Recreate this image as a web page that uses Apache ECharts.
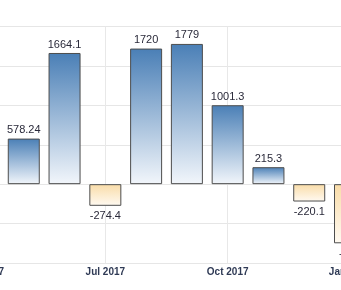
<!DOCTYPE html>
<html><head><meta charset="utf-8">
<script src="https://cdn.jsdelivr.net/npm/echarts@6/dist/echarts.min.js"></script>
<style>html,body{margin:0;padding:0;background:#fff}#c{width:341px;height:290px}</style>
</head><body><div id="c"></div>
<script>
const categories = ['Apr 2017','May 2017','Jun 2017','Jul 2017','Aug 2017','Sep 2017','Oct 2017','Nov 2017','Dec 2017','Jan 2018'];
const values = [null, 578.24, 1664.1, -274.4, 1720, 1779, 1001.3, 215.3, -220.1, -750];
const labels = ['', '578.24', '1664.1', '-274.4', '1720', '1779', '1001.3', '215.3', '-220.1', '-750'];
const yTicks = [-1000, -500, 0, 500, 1000, 1500, 2000];

const blue = {type:'linear',x:0,y:0,x2:0,y2:1,colorStops:[{offset:0,color:'#4a7fb6'},{offset:1,color:'#f2f6fb'}]};
const orange = {type:'linear',x:0,y:0,x2:0,y2:1,colorStops:[{offset:0,color:'#f9dca8'},{offset:1,color:'#fffaf2'}]};

const chart = echarts.init(document.getElementById('c'));
chart.setOption({
  animation:false,
  grid:{left:-17,right:-9,top:26.5,bottom:27,containLabel:false,outerBoundsMode:'none'},
  xAxis:{type:'category',data:categories,boundaryGap:false,
    axisLine:{show:false},axisTick:{show:false},
    axisLabel:{interval:2,color:'#2f3a55',fontSize:10,fontWeight:'bold',fontFamily:'Arial, Liberation Sans',margin:4},
    splitLine:{show:true,interval:2,lineStyle:{color:'#e8e8e8',width:1}}},
  yAxis:{type:'value',min:yTicks[0],max:yTicks[yTicks.length-1],interval:500,
    axisLabel:{show:false},axisLine:{show:false},axisTick:{show:false},
    splitLine:{lineStyle:{color:'#e6e6e6',width:1}}},
  series:[{type:'bar',barWidth:32,
    data:values.map((v,i)=>v===null?'-':{value:v,
      itemStyle:{color:v>=0?blue:orange,borderColor:'#4d4d4d',borderWidth:1},
      label:{show:true,position:v>=0?'top':'bottom',distance:v>=0?3:5,formatter:labels[i],
        color:'#2a2a3a',fontSize:11,fontFamily:'Arial, Liberation Sans'}})
  }]
});
</script></body></html>
